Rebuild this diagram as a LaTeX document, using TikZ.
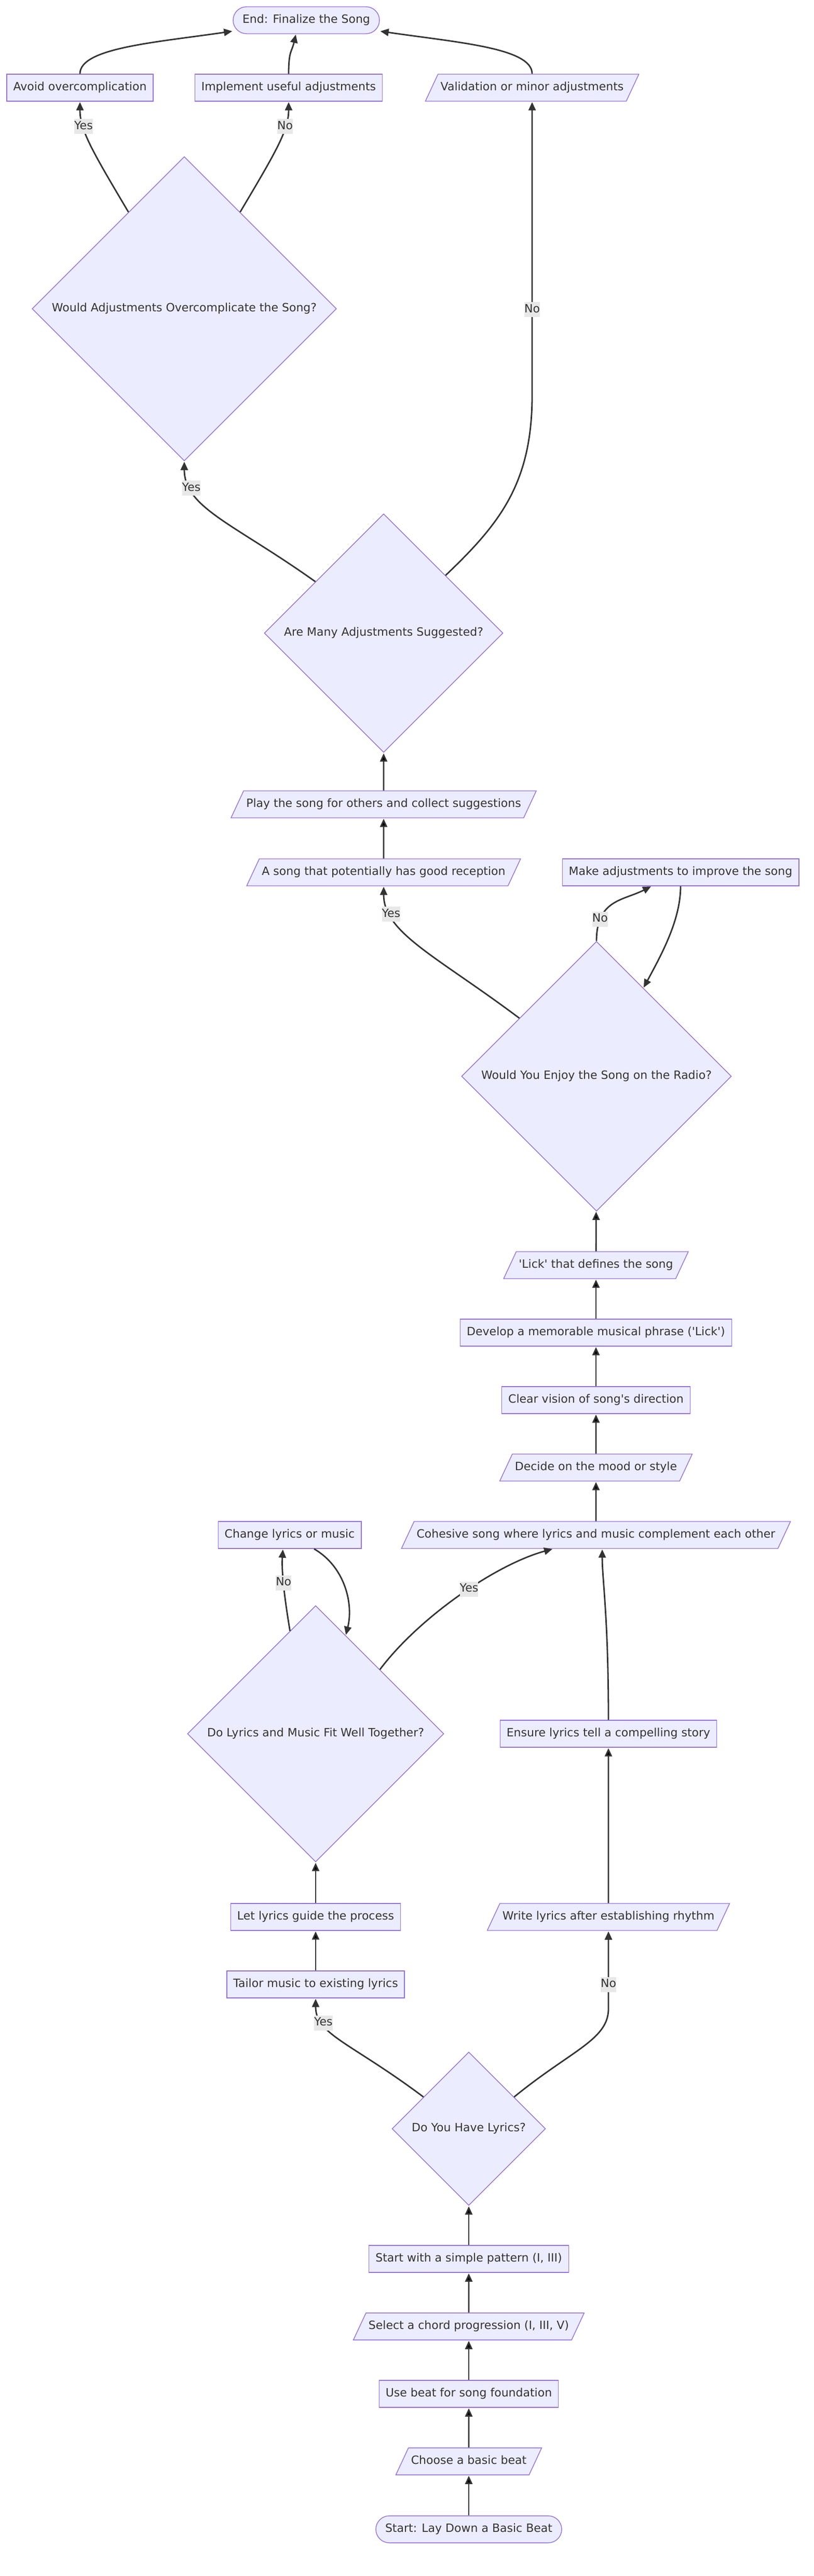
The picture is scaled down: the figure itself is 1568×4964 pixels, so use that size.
\documentclass[tikz,border=0pt]{standalone}
\usepackage{fontspec}
\setmainfont{DejaVu Sans}
\usetikzlibrary{shapes.geometric,arrows.meta,calc}
\definecolor{boxfill}{HTML}{ECECFF}
\definecolor{boxline}{HTML}{9370DB}
\definecolor{ink}{HTML}{333333}
\definecolor{lblfill}{HTML}{E8E8E8}
\begin{document}
\begin{tikzpicture}[x=1pt,y=-1pt,shorten >=1pt,->,>={Triangle[length=16pt,width=14pt]}]
        \tikzstyle{base}=[draw=boxline,line width=1.4pt,fill=boxfill,text=ink,font=\fontsize{22}{26}\selectfont,text height=16pt,text depth=5pt,inner ysep=15.5pt]
        \tikzstyle{stepbox}=[base,rectangle,inner xsep=12.5pt]
        \tikzstyle{terminal}=[base,rectangle,rounded corners=26pt,inner xsep=18pt]
        \tikzstyle{inout}=[base,trapezium,trapezium left angle=65,trapezium right angle=115,inner xsep=5pt]
        \tikzstyle{decision}=[base,diamond,shape aspect=1,inner sep=13.75pt]
        \tikzstyle{edge}=[draw=ink,line width=2.8pt]
        \tikzstyle{lbl}=[fill=lblfill,text=ink,font=\fontsize{22}{26}\selectfont,text height=16pt,text depth=5pt,inner xsep=0pt,inner ysep=4pt]
       \useasboundingbox (0,0) rectangle (1568,4964);
       \begin{scope}
         \node [terminal] (end) at (590,39) {End: Finalize the Song};
         \node [stepbox] (avoid) at (154,169) {Avoid overcomplication};
         \node [stepbox] (implement) at (556,169) {Implement useful adjustments};
         \node [inout] (validation) at (1025,169) {Validation or minor adjustments};
         \node [decision] (overcomp) at (355,595) {Would Adjustments Overcomplicate the Song?};
         \node [decision] (many) at (739,1220) {Are Many Adjustments Suggested?};
         \node [inout] (play) at (739,1550) {Play the song for others and collect suggestions};
         \node [inout] (reception) at (739,1681) {A song that potentially has good reception};
         \node [stepbox] (improve) at (1311,1681) {Make adjustments to improve the song};
         \node [decision] (radio) at (1149,2074) {Would You Enjoy the Song on the Radio?};
         \node [inout] (lick) at (1148,2438) {\textquotesingle Lick\textquotesingle{} that defines the song};
         \node [stepbox] (phrase) at (1148,2568) {Develop a memorable musical phrase (\textquotesingle Lick\textquotesingle)};
         \node [stepbox] (vision) at (1148,2698) {Clear vision of song\textquotesingle s direction};
         \node [inout] (mood) at (1148,2828) {Decide on the mood or style};
         \node [stepbox] (change) at (558,2958) {Change lyrics or music};
         \node [inout] (cohesive) at (1148,2958) {Cohesive song where lyrics and music complement each other};
         \node [decision] (fit) at (608,3341) {Do Lyrics and Music Fit Well Together?};
         \node [stepbox] (story) at (1172,3341) {Ensure lyrics tell a compelling story};
         \node [stepbox] (guide) at (608,3694) {Let lyrics guide the process};
         \node [inout] (rhythm) at (1172,3694) {Write lyrics after establishing rhythm};
         \node [stepbox] (tailor) at (608,3824) {Tailor music to existing lyrics};
         \node [decision] (lyrics) at (903,4102) {Do You Have Lyrics?};
         \node [stepbox] (pattern) at (903,4353) {Start with a simple pattern (I, III)};
         \node [inout] (chords) at (903,4483) {Select a chord progression (I, III, V)};
         \node [stepbox] (foundation) at (903,4613) {Use beat for song foundation};
         \node [inout] (beat) at (903,4743) {Choose a basic beat};
         \node [terminal] (start) at (903,4874) {Start: Lay Down a Basic Beat};
         \path[edge] (start) edge (beat);
         \path[edge] (beat) edge (foundation);
         \path[edge] (foundation) edge (chords);
         \path[edge] (chords) edge (pattern);
         \path[edge] (pattern) edge (lyrics);
         \path[edge] (lyrics.145) .. controls +(-140,-105) and +(0,70) .. node[lbl,pos=0.73] {Yes} (tailor.south);
         \path[edge] (lyrics.35) .. controls +(110,-90) and +(0,60) .. ($(rhythm.south)+(0,150)$) -- node[lbl,pos=0.31] {No} (rhythm.south);
         \path[edge] (tailor) edge (guide);
         \path[edge] (guide) edge (fit);
         \path[edge] (rhythm) edge (story);
         \path[edge] (story.north) .. controls +(0,-200) and +(0,60) .. ($(cohesive.south)+(12,0)$);
         \path[edge] (fit.104) .. controls +(-10,-60) and +(-3,45) .. node[lbl,pos=0.55] {No} ($(change.south)+(-13,0)$);
         \path[edge] ($(change.south)+(47,0)$) .. controls +(60,35) and +(15,-60) .. (fit.73);
         \path[edge] (fit.45) .. controls +(75,-100) and +(-110,30) .. node[lbl,pos=0.55] {Yes} ($(cohesive.south)+(-83,0)$);
         \path[edge] (cohesive) edge (mood);
         \path[edge] (mood) edge (vision);
         \path[edge] (vision) edge (phrase);
         \path[edge] (phrase) edge (lick);
         \path[edge] (lick) edge (radio);
         \path[edge] (radio.143) .. controls +(-160,-120) and +(0,90) .. node[lbl,pos=0.78] {Yes} (reception.south);
         \path[edge] (radio.north) .. controls +(0,-80) and +(-55,28) .. node[lbl,pos=0.22] {No} ($(improve.south)+(-56,0)$);
         \path[edge] (improve.south) .. controls +(0,65) and +(35,-65) .. (radio.62);
         \path[edge] (reception) edge (play);
         \path[edge] (play) edge (many);
         \path[edge] (many.143) .. controls +(-157,-112) and +(0,90) .. node[lbl,pos=0.78] {Yes} (overcomp.south);
         \path[edge] (many.43) .. controls +(105,-100) and +(0,170) .. ($(validation.south)+(0,565)$) -- node[lbl,pos=0.29] {No} (validation.south);
         \path[edge] (overcomp.120) .. controls +(-70,-118) and +(0,55) .. node[lbl,pos=0.7] {Yes} (avoid.south);
         \path[edge] (overcomp.60) .. controls +(70,-118) and +(0,55) .. node[lbl,pos=0.7] {No} (implement.south);
         \path[edge] (avoid.north) .. controls +(0,-50) and +(-150,22) .. ($(end.west)+(0,21)$);
         \path[edge] (implement.north) .. controls +(0,-45) and +(-8,35) .. ($(end.south)+(-20,0)$);
         \path[edge] (validation.north) .. controls +(0,-50) and +(150,22) .. ($(end.east)+(0,21)$);
        \end{scope}
      \end{tikzpicture}
\end{document}
